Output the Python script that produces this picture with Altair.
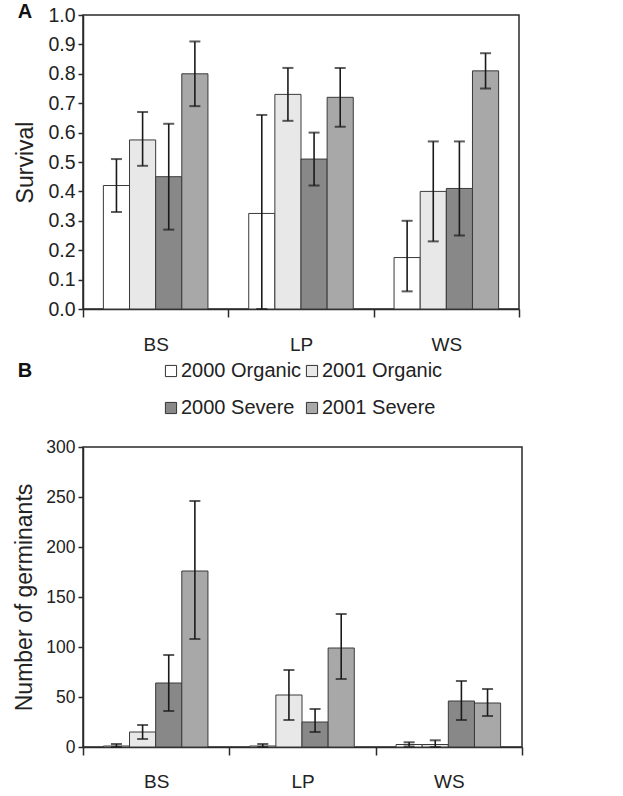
import altair as alt
import pandas as pd

categories = ["BS", "LP", "WS"]
series = ["2000 Organic", "2001 Organic", "2000 Severe", "2001 Severe"]
colors = ["#ffffff", "#e8e8e8", "#888888", "#a8a8a8"]

# Panel A: survival (mean, lower, upper) for BS, LP, WS
surv_2000_org = [0.42, 0.325, 0.175]
surv_2000_org_lo = [0.33, 0.0, 0.06]
surv_2000_org_hi = [0.51, 0.66, 0.30]
surv_2001_org = [0.575, 0.73, 0.40]
surv_2001_org_lo = [0.487, 0.64, 0.23]
surv_2001_org_hi = [0.67, 0.82, 0.57]
surv_2000_sev = [0.45, 0.51, 0.41]
surv_2000_sev_lo = [0.27, 0.42, 0.25]
surv_2000_sev_hi = [0.63, 0.60, 0.57]
surv_2001_sev = [0.80, 0.72, 0.81]
surv_2001_sev_lo = [0.69, 0.62, 0.75]
surv_2001_sev_hi = [0.91, 0.82, 0.87]

# Panel B: number of germinants (mean, lower, upper) for BS, LP, WS
germ_2000_org = [1, 1, 2.5]
germ_2000_org_lo = [0, 0, 0.5]
germ_2000_org_hi = [3, 3, 4.7]
germ_2001_org = [15, 52, 2.5]
germ_2001_org_lo = [8, 27, 0]
germ_2001_org_hi = [22, 77, 6.7]
germ_2000_sev = [64, 25, 46]
germ_2000_sev_lo = [36, 15, 27]
germ_2000_sev_hi = [92, 38, 66]
germ_2001_sev = [176, 99, 44]
germ_2001_sev_lo = [108, 68, 31]
germ_2001_sev_hi = [246, 133, 58]

surv_tab = [
    (surv_2000_org, surv_2000_org_lo, surv_2000_org_hi),
    (surv_2001_org, surv_2001_org_lo, surv_2001_org_hi),
    (surv_2000_sev, surv_2000_sev_lo, surv_2000_sev_hi),
    (surv_2001_sev, surv_2001_sev_lo, surv_2001_sev_hi),
]
germ_tab = [
    (germ_2000_org, germ_2000_org_lo, germ_2000_org_hi),
    (germ_2001_org, germ_2001_org_lo, germ_2001_org_hi),
    (germ_2000_sev, germ_2000_sev_lo, germ_2000_sev_hi),
    (germ_2001_sev, germ_2001_sev_lo, germ_2001_sev_hi),
]


def build(tab):
    rows = []
    for s, (m, lo, hi) in zip(series, tab):
        for i, c in enumerate(categories):
            rows.append({"cat": c, "series": s, "v": m[i], "lo": lo[i], "hi": hi[i]})
    return pd.DataFrame(rows)


dfA = build(surv_tab)
dfB = build(germ_tab)

FONT = "Liberation Sans"


def panel(df, width, height, ymax, yvals, yfmt, ylab_size, ytitle, title_pad,
          xlab_pad, letter, lx, ly, legend):
    xenc = alt.X("cat:N", sort=categories, title=None,
                 scale=alt.Scale(paddingInner=0, paddingOuter=0),
                 axis=alt.Axis(tickBand="extent", labelAngle=0, tickSize=8,
                               labelPadding=xlab_pad, labelFontSize=19, domain=True))
    xoff = alt.XOffset("series:N", sort=series,
                       scale=alt.Scale(paddingInner=0, paddingOuter=0.78))
    yscale = alt.Scale(domain=[0, ymax], nice=False, zero=True)
    yaxis = alt.Axis(values=yvals, format=yfmt, tickSize=5, labelPadding=3,
                     titlePadding=title_pad, labelOverlap=False,
                     labelFontSize=ylab_size, title=ytitle)
    fill = alt.Fill("series:N", sort=series,
                    scale=alt.Scale(domain=series, range=colors),
                    legend=legend)
    base = alt.Chart(df)
    bars = base.mark_bar(stroke="#3a3a3a", strokeWidth=1).encode(
        x=xenc, xOffset=xoff,
        y=alt.Y("v:Q", scale=yscale, axis=yaxis),
        fill=fill,
    )
    rule = base.mark_rule(color="#1a1a1a", strokeWidth=1.6).encode(
        x=xenc, xOffset=xoff,
        y=alt.Y("lo:Q", scale=yscale, axis=yaxis), y2="hi:Q",
    )
    cap_hi = base.mark_tick(color="#1a1a1a", size=11, thickness=2).encode(
        x=xenc, xOffset=xoff, y=alt.Y("hi:Q", scale=yscale, axis=yaxis),
    )
    cap_lo = base.mark_tick(color="#1a1a1a", size=11, thickness=2).encode(
        x=xenc, xOffset=xoff, y=alt.Y("lo:Q", scale=yscale, axis=yaxis),
    )
    lab = alt.Chart(pd.DataFrame({"t": [letter]})).mark_text(
        font=FONT, fontSize=20, fontWeight="bold", color="#111",
        align="center", baseline="middle").encode(
        x=alt.value(lx), y=alt.value(ly), text="t:N")
    return alt.layer(bars, rule, cap_hi, cap_lo, lab).properties(
        width=width, height=height)


legendB = alt.Legend(orient="none", legendX=78, legendY=-86, columns=2,
                     direction="horizontal", title=None, symbolType="square",
                     symbolSize=125, symbolStrokeColor="#333",
                     symbolStrokeWidth=1, labelFontSize=20, labelFont=FONT,
                     labelColor="#222", rowPadding=17, columnPadding=0,
                     labelOffset=0)

A = panel(dfA, 436, 294, 1.0, [round(i * 0.1, 1) for i in range(11)], ".1f", 19.5,
          "Survival", 10, 18, "A", -58, -3, None)
B = panel(dfB, 439, 300, 300, [0, 50, 100, 150, 200, 250, 300], "d", 17.5,
          "Number of germinants", 9.5, 17, "B", -58, -76, legendB)

chart = alt.vconcat(A, B, spacing=138, bounds="flush").resolve_scale(
    fill="independent").resolve_legend(fill="independent").properties(
    padding={"left": 12, "top": 1, "right": 5, "bottom": 5}
).configure_view(stroke="#2a2a2a", strokeWidth=1.5).configure_axis(
    labelFont=FONT, labelFontSize=18, labelColor="#222",
    titleFont=FONT, titleFontSize=23, titleFontWeight="normal", titleColor="#222",
    domainColor="#2a2a2a", domainWidth=1.5, tickColor="#2a2a2a", tickWidth=1.5,
    grid=False,
)

chart.save("out.html", embed_options={"renderer": "svg", "actions": False})
